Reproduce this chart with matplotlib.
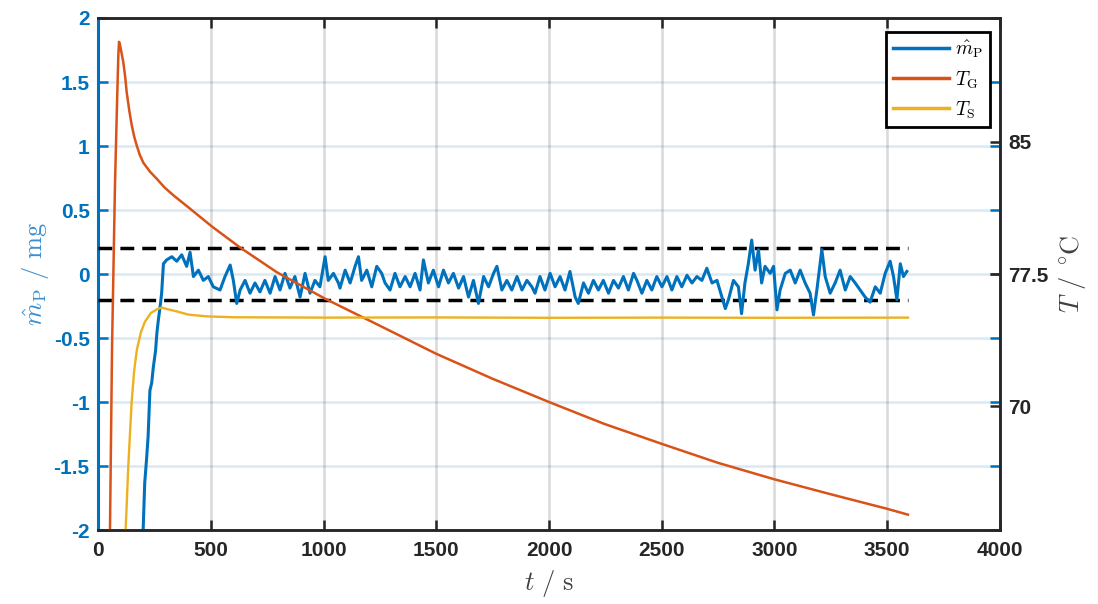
import matplotlib.pyplot as plt
from matplotlib.lines import Line2D

plt.rcParams['mathtext.fontset'] = 'cm'
plt.rcParams['font.family'] = ['Liberation Sans', 'DejaVu Sans']

# colours (MATLAB defaults)
c_blue = '#0072BD'
c_orange = '#D95319'
c_yellow = '#EDB120'

# m_P (left axis, mg)
t_m = [195, 200, 207, 215, 222, 230, 238, 245, 255, 261, 268, 275, 282, 290,
       304, 327, 349, 371, 393, 408, 423, 445, 467, 489, 511, 541, 563, 586,
       600, 615, 630, 652, 674, 696, 718, 740, 763, 785, 807, 829, 851, 873,
       896, 918, 940, 962, 984, 1007, 1021, 1044, 1066, 1073, 1096, 1118, 1140,
       1155, 1169, 1192, 1214, 1236, 1258, 1273, 1295, 1317, 1339, 1362, 1384,
       1406, 1428, 1443, 1465, 1487, 1510, 1532, 1554, 1576, 1599, 1621, 1643,
       1665, 1687, 1710, 1732, 1754, 1769, 1791, 1813, 1835, 1858, 1880, 1902,
       1924, 1938, 1960, 1982, 2005, 2027, 2049, 2071, 2093, 2116, 2130, 2153,
       2175, 2197, 2219, 2241, 2264, 2286, 2308, 2330, 2352, 2375, 2390, 2412,
       2434, 2456, 2478, 2501, 2523, 2545, 2567, 2589, 2612, 2634, 2656, 2678,
       2700, 2723, 2745, 2767, 2782, 2796, 2818, 2840, 2854, 2869, 2884, 2899,
       2914, 2929, 2943, 2958, 2981, 2996, 3011, 3025, 3048, 3070, 3092, 3114,
       3136, 3158, 3173, 3188, 3210, 3225, 3247, 3269, 3291, 3314, 3336, 3358,
       3380, 3402, 3424, 3447, 3469, 3491, 3513, 3528, 3543, 3558, 3572, 3587]
m_p = [-2.5, -2.0, -1.63, -1.45, -1.27, -0.91, -0.85, -0.73, -0.6, -0.46, -0.35,
       -0.26, -0.15, 0.08, 0.11, 0.135, 0.1, 0.15, 0.06, 0.17, -0.02, 0.03,
       -0.05, -0.02, -0.1, -0.125, -0.02, 0.07, -0.05, -0.23, -0.125, -0.05,
       -0.15, -0.07, -0.14, -0.05, -0.15, -0.02, -0.125, 0.005, -0.11, -0.02,
       -0.18, 0.005, -0.15, -0.05, -0.1, 0.135, -0.05, 0.005, -0.07, -0.11,
       0.03, -0.07, 0.06, 0.135, -0.05, 0.03, -0.1, 0.06, 0.005, -0.07, -0.125,
       0.005, -0.1, -0.02, -0.1, 0.005, -0.125, 0.11, -0.07, 0.03, -0.1, 0.03,
       -0.07, 0.005, -0.11, -0.02, -0.18, -0.05, -0.23, -0.02, -0.1, 0.005,
       0.06, -0.125, -0.05, -0.125, -0.02, -0.125, -0.05, -0.1, -0.15, -0.02,
       -0.125, 0.005, -0.1, -0.02, -0.125, 0.02, -0.18, -0.23, -0.07, -0.15,
       -0.05, -0.125, -0.05, -0.15, -0.05, -0.11, -0.02, -0.125, 0.005, -0.05,
       -0.15, -0.05, -0.125, -0.02, -0.1, -0.02, -0.125, -0.02, -0.1, -0.01,
       -0.07, -0.02, -0.05, 0.045, -0.07, -0.05, -0.18, -0.27, -0.2, -0.05,
       -0.1, -0.31, -0.07, 0.08, 0.265, 0.03, 0.19, -0.07, 0.06, 0.005, 0.06,
       -0.28, -0.125, 0.005, 0.03, -0.07, 0.03, -0.07, -0.15, -0.32, -0.125,
       0.19, -0.02, -0.15, -0.07, 0.03, -0.125, -0.02, -0.07, -0.125, -0.18,
       -0.22, -0.1, -0.15, 0.005, 0.1, -0.02, -0.2, 0.08, -0.02, 0.02]

# gas temperature T_G (right axis, degC)
t_g = [45, 53, 62, 75, 85, 90, 93, 97, 103, 112, 120, 127, 138, 149, 160, 171,
       185, 201, 230, 260, 295, 334, 408, 504, 630, 793, 1007, 1245, 1500,
       1751, 2000, 2243, 2500, 2748, 3000, 3248, 3500, 3592]
T_g = [60.0, 63.1, 73.3, 82.5, 87.6, 89.9, 90.65, 90.5, 90.1, 89.5, 88.7,
       87.8, 86.8, 85.95, 85.3, 84.8, 84.25, 83.8, 83.3, 82.9, 82.4, 81.96,
       81.2, 80.2, 79.0, 77.6, 76.1, 74.6, 72.98, 71.56, 70.25, 69.02, 67.88,
       66.81, 65.87, 65.03, 64.2, 63.87]

# sample temperature T_S (right axis, degC)
t_s = [115, 120, 125, 134, 149, 160, 172, 190, 208, 235, 261, 283, 310, 350,
       400, 483, 600, 1000, 1500, 2000, 2500, 3000, 3592]
T_s = [60.0, 62.5, 63.8, 66.6, 70.25, 72.0, 73.2, 74.2, 74.8, 75.3, 75.5,
       75.6, 75.5, 75.38, 75.2, 75.1, 75.05, 75.03, 75.04, 75.02, 75.03,
       75.02, 75.03]

# tolerance band
band = [0.2, -0.2]
band_end = 3590

x_ticks = [0, 500, 1000, 1500, 2000, 2500, 3000, 3500, 4000]
left_ticks = [-2, -1.5, -1, -0.5, 0, 0.5, 1, 1.5, 2]
left_labels = ['-2', '-1.5', '-1', '-0.5', '0', '0.5', '1', '1.5', '2']
right_ticks = [70, 77.5, 85]

fig = plt.figure(figsize=(10.98, 6.04), dpi=100)
ax = fig.add_axes([0.0893, 0.1225, 0.8214, 0.8477])
ax2 = ax.twinx()

# grid
ax.set_xlim(0, 4000)
ax.set_ylim(-2, 2)
ax.set_xticks(x_ticks)
ax.set_yticks(left_ticks)
ax.set_yticklabels(left_labels)
ax.xaxis.grid(True, color='black', alpha=0.15, lw=1.8)
ax.yaxis.grid(True, color=c_blue, alpha=0.15, lw=1.8)
ax.set_axisbelow(True)

for y in band:
    ax.plot([0, band_end], [y, y], color='black', lw=2.5,
            linestyle=(0, (4, 2.3)), zorder=3)
ax.plot(t_m, m_p, color=c_blue, lw=2.2, zorder=4)

ax2.plot(t_g, T_g, color=c_orange, lw=1.8)
ax2.plot(t_s, T_s, color=c_yellow, lw=1.7)
ax2.set_ylim(63, 92)
ax2.set_yticks(right_ticks)
ax2.set_yticklabels(['70', '77.5', '85'])

# spines and ticks
for sp in ['top', 'bottom', 'right']:
    ax.spines[sp].set_color('#262626')
    ax.spines[sp].set_linewidth(1.8)
    ax2.spines[sp].set_color('#262626')
    ax2.spines[sp].set_linewidth(1.8)
ax.spines['left'].set_color(c_blue)
ax.spines['left'].set_linewidth(2.2)
ax2.spines['left'].set_visible(False)

ax.tick_params(axis='x', direction='in', top=True, length=7, width=1.8,
               colors='#262626', labelsize=15, pad=8)
ax.tick_params(axis='y', direction='in', left=True, right=True, length=7,
               width=1.8, colors=c_blue, labelsize=15, pad=6)
ax2.tick_params(axis='y', direction='in', length=7, width=1.8,
                colors='#262626', labelsize=15, pad=6)
for lab in ax.get_xticklabels() + ax.get_yticklabels() + ax2.get_yticklabels():
    lab.set_fontweight('bold')

ax.set_xlabel(r'$t\ /\ \mathrm{s}$', fontsize=19, color='#404040', labelpad=6)
ax.set_ylabel(r'$\hat{m}_\mathrm{P}\ /\ \mathrm{mg}$', fontsize=19,
              color='#3a8fd0', labelpad=2)
ax2.set_ylabel(r'$T\ /\ ^\circ\!\mathrm{C}$', fontsize=19, color='#404040',
               labelpad=6)

handles = [Line2D([], [], color=c_blue, lw=2.5),
           Line2D([], [], color=c_orange, lw=2.5),
           Line2D([], [], color=c_yellow, lw=2.5)]
leg = ax2.legend(handles, [r'$\hat{m}_\mathrm{P}$', r'$T_\mathrm{G}$',
                           r'$T_\mathrm{S}$'],
                 loc='upper right', bbox_to_anchor=(0.989, 0.973),
                 fontsize=14, fancybox=False, framealpha=1, edgecolor='black',
                 handlelength=2.9, handletextpad=0.3, borderpad=0.35,
                 labelspacing=0.45, borderaxespad=0)
leg.get_frame().set_linewidth(2)

fig.savefig('out.png', dpi=100)
